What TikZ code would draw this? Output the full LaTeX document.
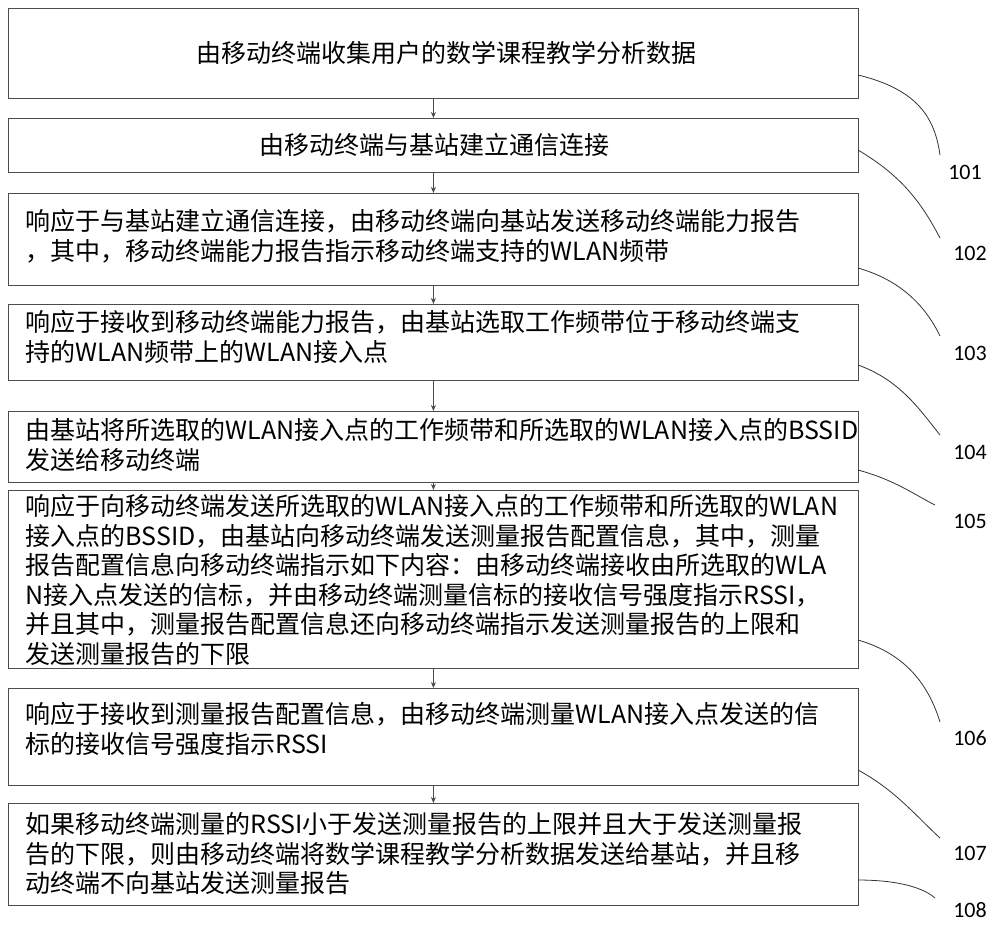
\documentclass[tikz,border=0pt]{standalone}
\usepackage{fontspec}
\setmainfont{Noto Sans CJK SC}
\newfontfamily\lab{Carlito}
\usetikzlibrary{arrows.meta}
\begin{document}
\begin{tikzpicture}[x=1pt,y=-1pt,
 box/.style={draw=black!70,line width=0.8pt,minimum width=850pt,anchor=north west,inner sep=0pt,align=center},
 txt/.style={font=\fontsize{25}{29.5}\selectfont},
 arr/.style={-{Stealth[length=6pt,width=5pt]},line width=0.8pt,black!70},
 cv/.style={line width=0.8pt,black!80},
 lbl/.style={font=\lab\fontsize{22}{24}\selectfont,anchor=center}]
\useasboundingbox (0,0) rectangle (1000,926);
\node[box,minimum height=90pt] (b1) at (8,8) {};
\node[txt] at (446,53) {由移动终端收集用户的数学课程教学分析数据};
\node[box,minimum height=54pt] (b2) at (8,118) {};
\node[txt] at (434,145) {由移动终端与基站建立通信连接};
\node[box,minimum height=92pt] (b3) at (8,193) {};
\node[txt,anchor=north west,align=left] at (22,206) {响应于与基站建立通信连接，由移动终端向基站发送移动终端能力报告\\，其中，移动终端能力报告指示移动终端支持的WLAN频带};
\node[box,minimum height=76pt] (b4) at (8,304) {};
\node[txt,anchor=north west,align=left] at (22,307) {响应于接收到移动终端能力报告，由基站选取工作频带位于移动终端支\\持的WLAN频带上的WLAN接入点};
\node[box,minimum height=71pt] (b5) at (8,411) {};
\node[txt,anchor=north west,align=left] at (22,415) {由基站将所选取的WLAN接入点的工作频带和所选取的WLAN接入点的BSSID\\发送给移动终端};
\node[box,minimum height=178pt] (b6) at (8,490) {};
\node[txt,anchor=north west,align=left] at (22,491) {响应于向移动终端发送所选取的WLAN接入点的工作频带和所选取的WLAN\\接入点的BSSID，由基站向移动终端发送测量报告配置信息，其中，测量\\报告配置信息向移动终端指示如下内容：由移动终端接收由所选取的WLA\\N接入点发送的信标，并由移动终端测量信标的接收信号强度指示RSSI，\\并且其中，测量报告配置信息还向移动终端指示发送测量报告的上限和\\发送测量报告的下限};
\node[box,minimum height=97pt] (b7) at (8,688) {};
\node[txt,anchor=north west,align=left] at (22,699) {响应于接收到测量报告配置信息，由移动终端测量WLAN接入点发送的信\\标的接收信号强度指示RSSI};
\node[box,minimum height=102pt] (b8) at (8,803) {};
\node[txt,anchor=north west,align=left] at (22,809) {如果移动终端测量的RSSI小于发送测量报告的上限并且大于发送测量报\\告的下限，则由移动终端将数学课程教学分析数据发送给基站，并且移\\动终端不向基站发送测量报告};
\foreach \a/\b in {b1/b2,b2/b3,b3/b4,b4/b5,b5/b6,b6/b7,b7/b8}
  \draw[arr] (\a.south) -- (\b.north);
\node[lbl] (l1) at (965,172) {101};
\node[lbl] (l2) at (970,253) {102};
\node[lbl] (l3) at (970,353) {103};
\node[lbl] (l4) at (970,452) {104};
\node[lbl] (l5) at (970,521) {105};
\node[lbl] (l6) at (970,738) {106};
\node[lbl] (l7) at (970,853) {107};
\node[lbl] (l8) at (970,910) {108};
\coordinate (c1) at (858,75); \coordinate (c2) at (858,150);
\coordinate (c3) at (858,268); \coordinate (c4) at (858,365);
\coordinate (c5) at (858,470); \coordinate (c6) at (858,640);
\coordinate (c7) at (858,770); \coordinate (c8) at (858,880);
\draw[cv] (c1) .. controls (920,90) and (935,120) .. (940,155);
\draw[cv] (c2) .. controls (900,175) and (920,200) .. (940,238);
\draw[cv] (c3) .. controls (900,280) and (925,305) .. (940,336);
\draw[cv] (c4) .. controls (900,380) and (920,410) .. (940,435);
\draw[cv] (c5) .. controls (895,480) and (915,495) .. (935,505);
\draw[cv] (c6) .. controls (910,655) and (930,690) .. (940,722);
\draw[cv] (c7) .. controls (895,790) and (915,815) .. (940,838);
\draw[cv] (c8) .. controls (890,880) and (920,885) .. (935,898);
\end{tikzpicture}
\end{document}
